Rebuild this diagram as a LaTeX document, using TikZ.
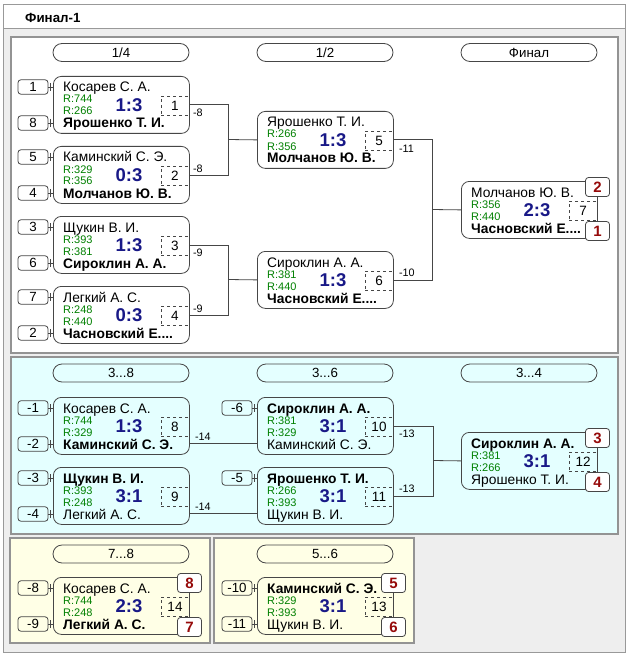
\documentclass[tikz,border=0pt]{standalone}
\usepackage{fontspec}
\setmainfont{Liberation Sans}
\usetikzlibrary{calc}
\definecolor{scoreblue}{RGB}{25,25,135}
\definecolor{rankred}{RGB}{150,10,10}
\definecolor{rgreen}{RGB}{0,128,0}
\definecolor{pcyan}{RGB}{228,255,255}
\definecolor{pyellow}{RGB}{255,255,230}
\definecolor{bggray}{RGB}{238,238,238}
\definecolor{edge}{RGB}{70,70,70}
\tikzset{
  matchbox/.style={draw=edge, rounded corners=8pt, minimum width=136pt, minimum height=57pt, inner sep=0pt, line width=0.8pt},
  nametext/.style={inner sep=0pt, font=\fontsize{13.8}{15}\selectfont},
  rtext/.style={inner sep=0pt, text=rgreen, font=\fontsize{11}{12}\selectfont},
  scoretext/.style={inner sep=0pt, text=scoreblue, font=\fontsize{18.5}{20}\selectfont\bfseries},
  numbox/.style={draw=edge, dashed, line width=0.7pt, minimum width=28pt, minimum height=19pt, inner sep=0pt, font=\fontsize{13.5}{15}\selectfont},
  seedbox/.style={draw=edge, rounded corners=3pt, minimum width=30pt, minimum height=14.5pt, inner sep=0pt, line width=0.8pt, font=\fontsize{13.3}{15}\selectfont},
  rankbox/.style={draw=edge, fill=white, rounded corners=3pt, minimum width=24pt, minimum height=19pt, inner sep=0pt, line width=0.8pt, text=rankred, font=\fontsize{15}{17}\selectfont\bfseries},
  pill/.style={draw=edge, rounded corners=9pt, minimum width=136pt, minimum height=18pt, inner sep=0pt, line width=0.8pt, font=\fontsize{13.3}{15}\selectfont},
  lbl/.style={inner sep=0pt, font=\fontsize{10.8}{12}\selectfont},
  conn/.style={draw=edge, line width=0.8pt},
  panel/.style={draw=gray!85, line width=1.1pt},
}
\newcommand{\Mt}[9]{%
  \node[matchbox, anchor=north west] (#1) at (#2,#3) {};
  \node[nametext, anchor=base west] (#1-a) at (#2+10,#3+16) {#4};
  \node[rtext, anchor=base west] (#1-r1) at (#2+10,#3+27) {#5};
  \node[rtext, anchor=base west] (#1-r2) at (#2+10,#3+39) {#6};
  \node[scoretext, anchor=base] (#1-s) at (#2+76,#3+35.5) {#7};
  \node[nametext, anchor=base west] (#1-b) at (#2+10,#3+52) {#8};
  \node[numbox] (#1-n) at (#2+122,#3+29.5) {#9};
}
\newcommand{\Sd}[5]{%
  \node[seedbox] (#1) at (#2,#3) {#4};
  \draw[conn] (#1.east) -- (#1.east -| #5.west);
  \draw[conn] ($(#1.east)+(1.5,-4)$) -- ($(#1.east)+(1.5,4)$);
}
\begin{document}
\begin{tikzpicture}[x=1pt,y=-1pt]
\useasboundingbox (0,0) rectangle (628,655);
% outer frame
\draw[draw=gray!80, fill=bggray, line width=1pt] (3,5) rectangle (625,652);
\draw[draw=gray!80, fill=white, line width=1pt] (3,5) rectangle (625,29);
\node[inner sep=0pt, anchor=west, font=\fontsize{13.3}{15}\selectfont\bfseries] (title) at (25,17.5) {Финал-1};
% panels
\draw[panel, fill=white] (11,37) rectangle (618,353);
\draw[panel, fill=pcyan] (11,357) rectangle (618,534);
\draw[panel, fill=pyellow] (10,538) rectangle (210,643);
\draw[panel, fill=pyellow] (214,538) rectangle (414,643);
% headers
\node[pill] (h1) at (121,52.5) {1/4};
\node[pill] (h2) at (325,52.5) {1/2};
\node[pill] (h3) at (529,52.5) {Финал};
\node[pill] (h4) at (121,373) {3...8};
\node[pill] (h5) at (325,373) {3...6};
\node[pill] (h6) at (529,373) {3...4};
\node[pill] (h7) at (121,554) {7...8};
\node[pill] (h8) at (325,554) {5...6};
% panel 1 matches
\Mt{m1}{53}{76}{Косарев С. А.}{R:744}{R:266}{1:3}{\bfseries Ярошенко Т. И.}{1}
\Mt{m2}{53}{146}{Каминский С. Э.}{R:329}{R:356}{0:3}{\bfseries Молчанов Ю. В.}{2}
\Mt{m3}{53}{216}{Щукин В. И.}{R:393}{R:381}{1:3}{\bfseries Сироклин А. А.}{3}
\Mt{m4}{53}{286}{Легкий А. С.}{R:248}{R:440}{0:3}{\bfseries Часновский Е....}{4}
\Mt{m5}{257}{111}{Ярошенко Т. И.}{R:266}{R:356}{1:3}{\bfseries Молчанов Ю. В.}{5}
\Mt{m6}{257}{251}{Сироклин А. А.}{R:381}{R:440}{1:3}{\bfseries Часновский Е....}{6}
\Mt{m7}{461}{181}{Молчанов Ю. В.}{R:356}{R:440}{2:3}{\bfseries Часновский Е....}{7}
\Sd{s1}{33}{87}{1}{m1}
\Sd{s8}{33}{123}{8}{m1}
\Sd{s5}{33}{157}{5}{m2}
\Sd{s4}{33}{193}{4}{m2}
\Sd{s3}{33}{227}{3}{m3}
\Sd{s6}{33}{263}{6}{m3}
\Sd{s7}{33}{297}{7}{m4}
\Sd{s2}{33}{333}{2}{m4}
\coordinate (j12) at (228,139.5);
\coordinate (j34) at (228,279.5);
\coordinate (j56) at (432,209.5);
\draw[conn] (m1.east) -| (j12);
\draw[conn] (m2.east) -| (j12);
\draw[conn] (j12) -- (m5.west);
\draw[conn] (m3.east) -| (j34);
\draw[conn] (m4.east) -| (j34);
\draw[conn] (j34) -- (m6.west);
\draw[conn] (m5.east) -| (j56);
\draw[conn] (m6.east) -| (j56);
\draw[conn] (j56) -- (m7.west);
\node[lbl, anchor=west] (l1) at ($(m1.east)+(3,8)$) {-8};
\node[lbl, anchor=west] (l2) at ($(m2.east)+(3,-6)$) {-8};
\node[lbl, anchor=west] (l3) at ($(m3.east)+(3,8)$) {-9};
\node[lbl, anchor=west] (l4) at ($(m4.east)+(3,-6)$) {-9};
\node[lbl, anchor=west] (l5) at ($(m5.east)+(5,9)$) {-11};
\node[lbl, anchor=west] (l6) at ($(m6.east)+(5,-7)$) {-10};
\node[rankbox] (rk2) at (597.5,187) {2};
\node[rankbox] (rk1) at (597.5,231) {1};
% panel 2 matches
\Mt{m8}{53}{397}{Косарев С. А.}{R:744}{R:329}{1:3}{\bfseries Каминский С. Э.}{8}
\Mt{m9}{53}{467}{\bfseries Щукин В. И.}{R:393}{R:248}{3:1}{Легкий А. С.}{9}
\Mt{m10}{257}{397}{\bfseries Сироклин А. А.}{R:381}{R:329}{3:1}{Каминский С. Э.}{10}
\Mt{m11}{257}{467}{\bfseries Ярошенко Т. И.}{R:266}{R:393}{3:1}{Щукин В. И.}{11}
\Mt{m12}{461}{432}{\bfseries Сироклин А. А.}{R:381}{R:266}{3:1}{Ярошенко Т. И.}{12}
\Sd{sm1}{33}{408}{-1}{m8}
\Sd{sm2}{33}{444}{-2}{m8}
\Sd{sm3}{33}{478}{-3}{m9}
\Sd{sm4}{33}{514}{-4}{m9}
\Sd{sm6}{237}{408}{-6}{m10}
\Sd{sm5}{237}{478}{-5}{m11}
\draw[conn] ($(m8.north east)+(0,46)$) -- ($(m10.north west)+(0,46)$);
\draw[conn] ($(m9.north east)+(0,46)$) -- ($(m11.north west)+(0,46)$);
\node[lbl, anchor=west] (l8) at ($(m8.north east)+(5,40)$) {-14};
\node[lbl, anchor=west] (l9) at ($(m9.north east)+(5,40)$) {-14};
\coordinate (j1011) at (433,460.5);
\draw[conn] (m10.east) -| (j1011);
\draw[conn] (m11.east) -| (j1011);
\draw[conn] (j1011) -- (m12.west);
\node[lbl, anchor=west] (l10) at ($(m10.east)+(5,8)$) {-13};
\node[lbl, anchor=west] (l11) at ($(m11.east)+(5,-7)$) {-13};
\node[rankbox] (rk3) at (597.5,438) {3};
\node[rankbox] (rk4) at (597.5,482) {4};
% panel 3
\Mt{m14}{53}{577}{Косарев С. А.}{R:744}{R:248}{2:3}{\bfseries Легкий А. С.}{14}
\Sd{sm8}{33}{588}{-8}{m14}
\Sd{sm9}{33}{624}{-9}{m14}
\node[rankbox] (rk8) at (189.5,583) {8};
\node[rankbox] (rk7) at (189.5,627) {7};
% panel 4
\Mt{m13}{257}{577}{\bfseries Каминский С. Э.}{R:329}{R:393}{3:1}{Щукин В. И.}{13}
\Sd{sm10}{237}{588}{-10}{m13}
\Sd{sm11}{237}{624}{-11}{m13}
\node[rankbox] (rk5) at (393.5,583) {5};
\node[rankbox] (rk6) at (393.5,627) {6};
\end{tikzpicture}
\end{document}
